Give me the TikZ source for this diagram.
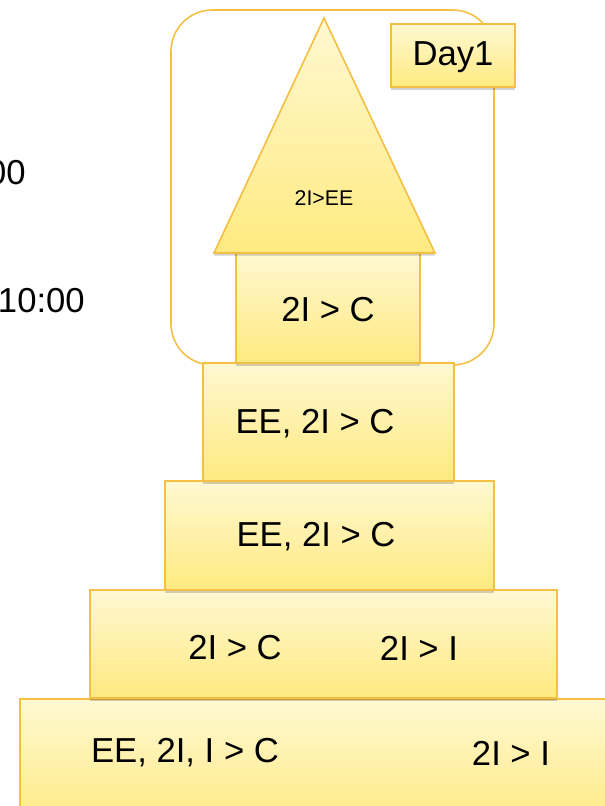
\documentclass[tikz,border=0pt]{standalone}
\usepackage{fontspec}
\setmainfont{Liberation Sans}
\usetikzlibrary{shadows}
\definecolor{edgec}{HTML}{F3BF45}
\definecolor{filltop}{HTML}{FFF8D2}
\definecolor{fillbot}{HTML}{FFEA80}
\tikzset{
  box/.style={draw=edgec, line width=1.2pt, top color=filltop, bottom color=fillbot,
    drop shadow={shadow xshift=0pt, shadow yshift=-2pt, opacity=0.18, fill=black}},
  framec/.style={draw=edgec, line width=1.2pt, rounded corners=31pt},
  bigtxt/.style={font=\fontsize{26}{30}\selectfont, inner sep=0pt},
  smalltxt/.style={font=\fontsize{16}{19}\selectfont, inner sep=0pt},
}
\begin{document}
\begin{tikzpicture}[x=0.75pt, y=-0.75pt]
\useasboundingbox (0,0) rectangle (605,806);
% left time labels (cut at the page edge)
\node[bigtxt, anchor=east] (t1) at (26,173) {00};
\node[bigtxt, anchor=east] (t2) at (85,301) {10:00};
% frame
\draw[framec] (171,10) rectangle (494,365);
% pyramid, bottom to top
\draw[box] (20,699) rectangle (625,830);
\draw[box] (90,590) rectangle (557,698);
\draw[box] (165,481) rectangle (494,590);
\draw[box] (203,363) rectangle (454,481);
\draw[box] (236,253) rectangle (420,363);
\draw[box] (214,253) -- (324,18) -- (435,253) -- cycle;
\draw[box] (391,24) rectangle (515,87);
% texts
\node[smalltxt] (roof) at (324,198) {2I>EE};
\node[bigtxt] (day) at (453,57) {Day1};
\node[bigtxt] (l1) at (328,310) {2I > C};
\node[bigtxt] (l2) at (315,424) {EE, 2I > C};
\node[bigtxt] (l3) at (316,537) {EE, 2I > C};
\node[bigtxt] (l4a) at (235,648) {2I > C};
\node[bigtxt] (l4b) at (419,648) {2I > I};
\node[bigtxt] (l5a) at (185,753) {EE, 2I, I > C};
\node[bigtxt] (l5b) at (511,753) {2I > I};
\end{tikzpicture}
\end{document}
